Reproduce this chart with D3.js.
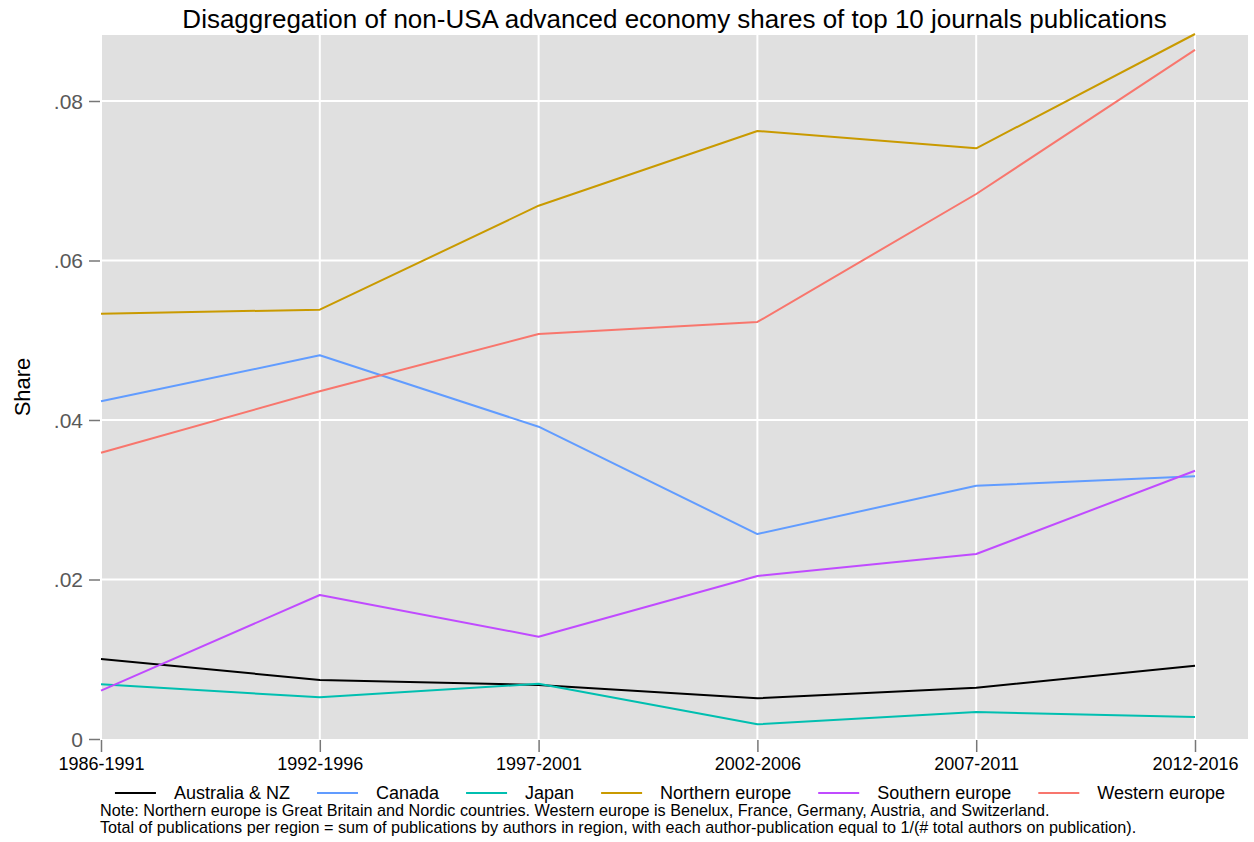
<!DOCTYPE html>
<html>
<head>
<meta charset="utf-8">
<script src="https://cdn.jsdelivr.net/npm/d3@7"></script>
<style>
  body { margin: 0; background: #fff; }
  svg { display: block; font-family: "Liberation Sans", Arial, sans-serif; }
</style>
</head>
<body>
<svg id="chart" width="1254" height="842"></svg>
<script>
const periods = ["1986-1991", "1992-1996", "1997-2001", "2002-2006", "2007-2011", "2012-2016"];
const seriesNames = ["Australia & NZ", "Canada", "Japan", "Northern europe", "Southern europe", "Western europe"];
const australiaNZ = [0.01003, 0.0074, 0.00677, 0.0051, 0.00643, 0.00919];
const canada = [0.04234, 0.04811, 0.03916, 0.0257, 0.03176, 0.03294];
const japan = [0.00686, 0.00523, 0.00693, 0.00184, 0.00339, 0.00276];
const northernEurope = [0.05333, 0.05383, 0.06687, 0.07624, 0.07407, 0.0884];
const southernEurope = [0.00606, 0.01806, 0.01283, 0.02044, 0.0232, 0.03364];
const westernEurope = [0.0359, 0.0436, 0.05078, 0.05229, 0.06834, 0.0864];
const yTicks = [0, 0.02, 0.04, 0.06, 0.08];
const yTickLabels = ["0", ".02", ".04", ".06", ".08"];
const colors = ["#000000", "#619CFF", "#00BFB0", "#C99A00", "#C04BFF", "#F8766D"];
const title = "Disaggregation of non-USA advanced economy shares of top 10 journals publications";
const yTitle = "Share";
const notes = [
  "Note: Northern europe is Great Britain and Nordic countries. Western europe is Benelux, France, Germany, Austria, and Switzerland.",
  "Total of publications per region = sum of publications by authors in region, with each author-publication equal to 1/(# total authors on publication)."
];

const allValues = [australiaNZ, canada, japan, northernEurope, southernEurope, westernEurope];
const series = seriesNames.map((n, i) => ({ name: n, values: allValues[i], color: colors[i] }));

const svg = d3.select("#chart");
const plot = { left: 101, right: 1248, top: 35, bottom: 739 };

const x = d3.scalePoint().domain(periods).range([plot.left, 1195]);
const y = d3.scaleLinear().domain([0, 0.08]).range([plot.bottom, 101]);

// background
svg.append("rect").attr("x", plot.left).attr("y", plot.top)
  .attr("width", plot.right - plot.left).attr("height", plot.bottom - plot.top)
  .attr("fill", "#e0e0e0");

// grid
svg.append("g").selectAll("line").data(yTicks.filter(d => d > 0)).join("line")
  .attr("x1", plot.left).attr("x2", plot.right)
  .attr("y1", d => y(d)).attr("y2", d => y(d))
  .attr("stroke", "#fff").attr("stroke-width", 2);
svg.append("g").selectAll("line").data(periods).join("line")
  .attr("x1", d => x(d)).attr("x2", d => x(d))
  .attr("y1", plot.top).attr("y2", plot.bottom)
  .attr("stroke", "#fff").attr("stroke-width", 2);

// y axis
const yAxis = d3.axisLeft(y).tickValues(yTicks).tickSize(11).tickPadding(6)
  .tickFormat((d, i) => yTickLabels[i]);
const gy = svg.append("g").attr("transform", `translate(${plot.left - 1},0)`).call(yAxis);
gy.select(".domain").remove();
gy.selectAll(".tick line").attr("stroke", "#777").attr("stroke-width", 1.5);
gy.selectAll(".tick text").attr("fill", "#595959").attr("font-size", 21)
  .attr("font-family", "Liberation Sans, Arial, sans-serif").attr("dy", "0.35em");

// x axis
const xAxis = d3.axisBottom(x).tickSize(12).tickPadding(5);
const gx = svg.append("g").attr("transform", `translate(0,${plot.bottom + 1})`).call(xAxis);
gx.select(".domain").remove();
gx.selectAll(".tick line").attr("stroke", "#777").attr("stroke-width", 1.5);
gx.selectAll(".tick text").attr("fill", "#000").attr("font-size", 18)
  .attr("font-family", "Liberation Sans, Arial, sans-serif");

// lines
const line = d3.line().x((d, i) => x(periods[i])).y(d => y(d));
svg.append("g").selectAll("path").data(series).join("path")
  .attr("d", d => line(d.values))
  .attr("fill", "none").attr("stroke", d => d.color).attr("stroke-width", 2)
  .attr("stroke-linejoin", "round");

// title
svg.append("text").attr("x", (plot.left + plot.right) / 2).attr("y", 28)
  .attr("text-anchor", "middle").attr("font-size", 26).attr("fill", "#000").text(title);

// y title
svg.append("text").attr("transform", "translate(30,387) rotate(-90)")
  .attr("text-anchor", "middle").attr("font-size", 22).attr("fill", "#000").text(yTitle);

// legend
const legend = svg.append("g");
const lineLen = 41, textGap = 18, itemGap = 27, legY = 793;
const items = legend.selectAll("g").data(series).join("g");
items.append("line").attr("x1", 0).attr("x2", lineLen).attr("y1", 0).attr("y2", 0)
  .attr("stroke", d => d.color).attr("stroke-width", 2);
items.append("text").attr("x", lineLen + textGap).attr("y", 0).attr("dy", "0.35em")
  .attr("font-size", 18).attr("fill", "#000").text(d => d.name);
let cx = 0;
items.each(function () {
  const g = d3.select(this);
  g.attr("transform", `translate(${cx},0)`);
  const w = lineLen + textGap + g.select("text").node().getComputedTextLength();
  cx += w + itemGap;
});
const totalW = cx - itemGap;
legend.attr("transform", `translate(${670 - totalW / 2},${legY})`);

// notes
svg.append("g").selectAll("text").data(notes).join("text")
  .attr("x", 100).attr("y", (d, i) => 816 + i * 17)
  .attr("font-size", 16.2).attr("fill", "#000").text(d => d);
</script>
</body>
</html>
